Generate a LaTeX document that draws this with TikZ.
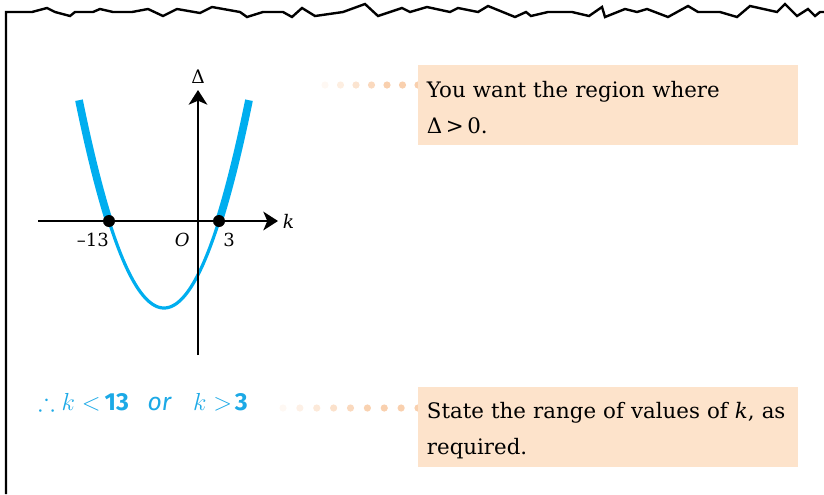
\RequirePackage{fix-cm}
\documentclass[tikz,border=0pt]{standalone}
\usepackage{amsmath,amssymb}
\usepackage{fontspec}
\usepackage{xcolor}
\usetikzlibrary{arrows.meta,positioning,calc,backgrounds}
\setmainfont{DejaVu Serif}
\newfontfamily\handfont{Fira Sans}
\definecolor{curveblue}{HTML}{00AEEF}
\definecolor{handblue}{HTML}{1CA9E6}
\definecolor{notefill}{HTML}{FDE3CB}
\definecolor{notedot}{HTML}{F9D0AE}
\newcommand{\notetop}{\rule{0pt}{24pt}}
\newcommand{\notebot}{\rule[-9pt]{0pt}{9pt}}
\tikzset{
  note/.style={rectangle,fill=notefill,anchor=north west,align=left,text width=272pt,inner xsep=6.5pt,inner ysep=0pt,font=\fontsize{16}{27}\selectfont},
  axisline/.style={-{Stealth[length=11pt,width=14pt,inset=3pt]},line width=1.5pt},
  curvethin/.style={draw=curveblue,line width=2.4pt},
  curvethick/.style={draw=curveblue,line width=5.8pt},
  rootdot/.style={circle,fill=black,inner sep=0pt,minimum size=9pt},
  axislab/.style={inner sep=0pt,font=\fontsize{14}{16}\selectfont},
  ticklab/.style={inner sep=0pt,font=\fontsize{13.5}{16}\selectfont},
  handtext/.style={text=handblue,inner sep=0pt,anchor=base west,font=\fontsize{18.5}{20}\handfont\bfseries},
  leaddot/.style={fill=notedot},
  tornedge/.style={line width=1.8pt,line join=miter}
}
\begin{document}
\begin{tikzpicture}[x=0.75pt,y=-0.75pt]
\useasboundingbox (0,0) rectangle (824,494);
% torn page edge
\draw[tornedge] (6,494) -- (6,12)
  \foreach \p in {(32,12),(47,8),(55,12),(70,16),(75,12),(93,12),(100,9),(113,12),(132,12),(148,9),(163,16),(177,9),(200,13),(212,7),(240,12),(247,17),(263,12),(283,12),(292,17),(302,8),(315,16),(343,12),(365,4),(378,16),(402,8),(410,12),(427,7),(450,12),(458,8),(478,12),(488,6),(515,17),(526,12),(531,16),(548,12),(572,12),(589,16),(602,7),(605,17),(625,9),(637,12),(647,9),(668,17),(688,6),(698,12),(720,12),(737,17),(750,6),(777,12),(785,4),(797,16),(808,9),(815,16),(820,12),(824,12)} { -- \p };
% graph
\coordinate (O) at (198,221);
\coordinate (xl) at (38,221);
\coordinate (xr) at (278,221);
\coordinate (yb) at (198,355);
\coordinate (yt) at (198,90);
\draw[curvethin] plot[domain=109:219,samples=60,smooth] (\x,{308-87*((\x-164)/55)^2});
\draw[curvethick] plot[domain=79:109,samples=20,smooth] (\x,{308-87*((\x-164)/55)^2});
\draw[curvethick] plot[domain=219:249,samples=20,smooth] (\x,{308-87*((\x-164)/55)^2});
\draw[axisline] (xl) -- (xr);
\draw[axisline] (yb) -- (yt);
\node[axislab,above=4.5pt of yt] (dlab) {Δ};
\node[axislab,right=3.5pt of xr] (klab) {\textit{k}};
\node[rootdot] (r1) at (109,221) {};
\node[rootdot] (r2) at (219,221) {};
\node[ticklab,below left=9pt and 0pt of r1.center] (t1) {–13};
\node[ticklab,below left=9pt and 6pt of O] (olab) {\textit{O}};
\node[ticklab,below right=9pt and 3pt of r2.center] (t2) {3};
% working
\node[handtext] (answer) at (38,410) {$\therefore k<$\hspace{3pt}13\hspace{14pt}{\mdseries\textit{or}}\hspace{16pt}$k>$\hspace{2pt}3};
% notes
\node[note] (note1) at (418,65) {\notetop You want the region where\\Δ\,>\,0.\notebot};
\node[note,below right=180.75pt and 0pt of note1.south west] (note2) {\notetop State the range of values of \textit{k}, as\\required.\notebot};
\coordinate (lead1) at (325,85);
\coordinate (lead1e) at (note1.west |- lead1);
\coordinate (lead2) at (283,408);
\coordinate (lead2e) at (note2.west |- lead2);
\begin{scope}[on background layer]
\foreach \n [evaluate=\n as \op using {min(1,0.15+1.3*\n/6)}] in {0,...,6}
  \fill[leaddot,opacity=\op] ($(lead1)!\n/6!(lead1e)$) circle[radius=2.7pt];
\foreach \n [evaluate=\n as \op using {min(1,0.15+1.3*\n/8)}] in {0,...,8}
  \fill[leaddot,opacity=\op] ($(lead2)!\n/8!(lead2e)$) circle[radius=2.7pt];
\end{scope}
\end{tikzpicture}
\end{document}
